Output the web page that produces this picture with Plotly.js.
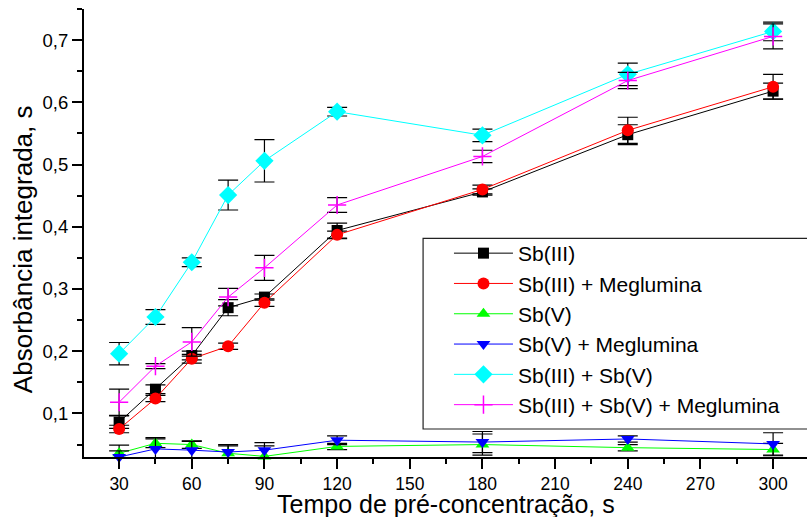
<!DOCTYPE html>
<html>
<head>
<meta charset="utf-8">
<script src="https://cdn.plot.ly/plotly-3.0.1.min.js"></script>
<style>html,body{margin:0;padding:0;background:#fff;}#chart{width:807px;height:517px;}</style>
</head>
<body>
<div id="chart"></div>
<script>
// Pre-concentration time (s)
var times = [30, 45, 60, 75, 90, 120, 180, 240, 300];

var seriesNames = ["Sb(III)", "Sb(III) + Meglumina", "Sb(V)", "Sb(V) + Meglumina", "Sb(III) + Sb(V)", "Sb(III) + Sb(V) + Meglumina"];

var sb3        = [0.086, 0.139, 0.193, 0.270, 0.287, 0.394, 0.456, 0.548, 0.618];
var sb3Err     = [0.010, 0.007, 0.007, 0.013, 0.005, 0.012, 0.005, 0.016, 0.013];
var sb3Meg     = [0.075, 0.124, 0.188, 0.208, 0.278, 0.387, 0.460, 0.555, 0.625];
var sb3MegErr  = [0.006, 0.005, 0.007, 0.005, 0.006, 0.006, 0.007, 0.021, 0.020];
var sb5        = [0.036, 0.052, 0.050, 0.036, 0.031, 0.047, 0.050, 0.045, 0.042];
var sb5Err     = [0.013, 0.007, 0.006, 0.012, 0.017, 0.005, 0.017, 0.005, 0.010];
var sb5Meg     = [0.030, 0.043, 0.041, 0.038, 0.041, 0.057, 0.054, 0.059, 0.051];
var sb5MegErr  = [0.010, 0.018, 0.014, 0.012, 0.012, 0.007, 0.017, 0.005, 0.018];
var sb35       = [0.196, 0.255, 0.343, 0.451, 0.506, 0.585, 0.547, 0.645, 0.714];
var sb35Err    = [0.018, 0.012, 0.007, 0.024, 0.034, 0.007, 0.010, 0.018, 0.015];
var sb35Meg    = [0.118, 0.176, 0.215, 0.287, 0.334, 0.435, 0.513, 0.635, 0.706];
var sb35MegErr = [0.021, 0.004, 0.023, 0.014, 0.020, 0.012, 0.010, 0.013, 0.020];

var xTickVals = [30, 60, 90, 120, 150, 180, 210, 240, 270, 300];

var xTitle = "Tempo de pré-concentração, s";
var yTitle = "Absorbância integrada, s";

var FONT = "Liberation Sans, Arial, sans-serif";

function mk(name, y, err, color, symbol, size, lineMarker) {
  var marker = {color: color, symbol: symbol, size: size};
  if (lineMarker) marker.line = {color: color, width: 1.5};
  return {
    type: "scatter", mode: "lines+markers", name: name,
    x: times, y: y,
    line: {color: color, width: 1},
    marker: marker,
    error_y: {type: "data", array: err, visible: true, color: "#000", thickness: 1.2, width: 10},
    cliponaxis: false
  };
}

var data = [
  mk(seriesNames[0], sb3, sb3Err, "#000000", "square", 11),
  mk(seriesNames[1], sb3Meg, sb3MegErr, "#ff0000", "circle", 12),
  mk(seriesNames[2], sb5, sb5Err, "#00ff00", "triangle-up", 12),
  mk(seriesNames[3], sb5Meg, sb5MegErr, "#0000ff", "triangle-down", 12),
  mk(seriesNames[4], sb35, sb35Err, "#00ffff", "diamond", 14),
  mk(seriesNames[5], sb35Meg, sb35MegErr, "#ff00ff", "cross-thin-open", 13, true)
];

var layout = {
  width: 807, height: 517,
  margin: {l: 84, r: 0, t: 9, b: 60, pad: 0},
  paper_bgcolor: "#fff", plot_bgcolor: "#fff",
  separators: ",.",
  font: {family: FONT, color: "#000", size: 18},
  showlegend: true,
  legend: {
    x: 0.5048, y: 0.500, xanchor: "left", yanchor: "top",
    bgcolor: "rgba(0,0,0,0)", borderwidth: 0,
    font: {family: FONT, size: 21, color: "#000"},
    itemwidth: 59, tracegroupgap: 0
  },
  shapes: [{
    type: "rect", xref: "paper", yref: "paper",
    x0: 0.469, x1: 1.05, y0: 0.0625, y1: 0.488,
    line: {color: "#222", width: 1.2}, fillcolor: "rgba(0,0,0,0)", layer: "below"
  }],
  annotations: [{
    text: yTitle, xref: "paper", yref: "paper", x: 0, y: 0.464,
    xanchor: "center", yanchor: "middle", xshift: -61, textangle: -90,
    showarrow: false, font: {family: FONT, size: 26, color: "#000"}
  }, {
    text: xTitle, xref: "paper", yref: "paper", x: 0.5, y: 0,
    xanchor: "center", yanchor: "middle", yshift: -47,
    showarrow: false, font: {family: FONT, size: 25, color: "#000"}
  }],
  xaxis: {
    range: [15.5, 314], showgrid: false, zeroline: false,
    showline: true, linecolor: "#000", linewidth: 2,
    ticks: "outside", ticklen: 10, tickwidth: 2, tickcolor: "#000",
    tickvals: xTickVals, ticktext: xTickVals.map(String),
    tickfont: {family: FONT, size: 17.5, color: "#000"},
    minor: {dtick: 15, tick0: 0, ticks: "outside", ticklen: 5, tickwidth: 2, tickcolor: "#000", showgrid: false}
  },
  yaxis: {
    range: [0.03, 0.75], showgrid: false, zeroline: false,
    showline: true, linecolor: "#000", linewidth: 2,
    ticks: "outside", ticklen: 10, tickwidth: 2, tickcolor: "#000",
    tick0: 0, dtick: 0.1, tickformat: ".1f",
    tickfont: {family: FONT, size: 18.5, color: "#000"},
    minor: {dtick: 0.05, tick0: 0, ticks: "outside", ticklen: 5, tickwidth: 2, tickcolor: "#000", showgrid: false}
  }
};

Plotly.newPlot("chart", data, layout, {displayModeBar: false, staticPlot: true});
</script>
</body>
</html>
